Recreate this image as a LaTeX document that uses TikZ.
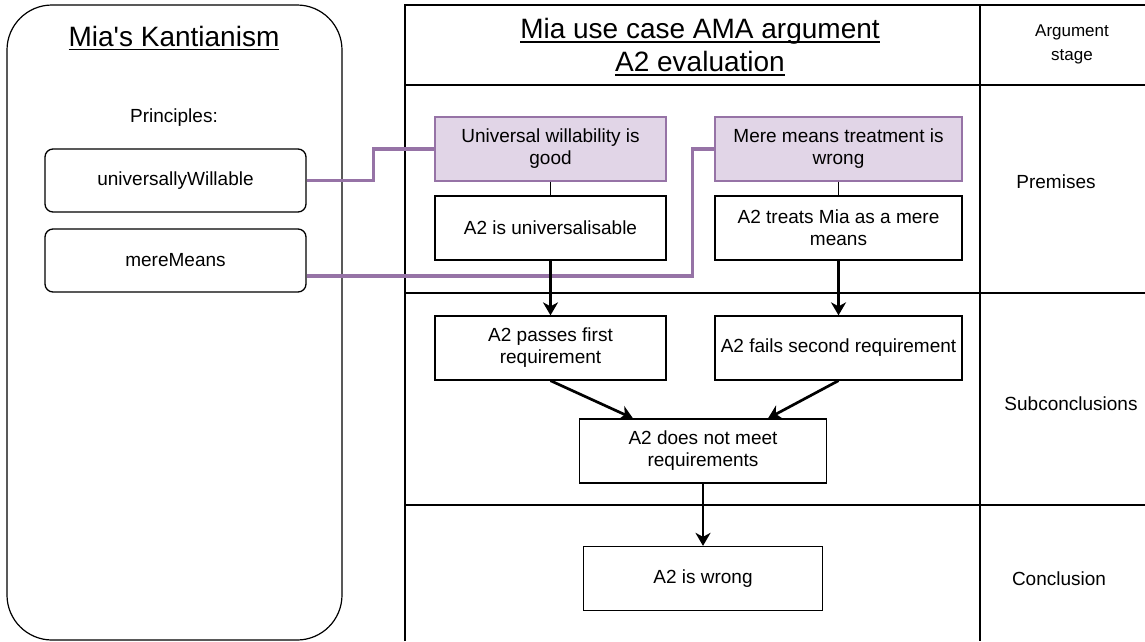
\documentclass[tikz,border=0pt]{standalone}
\usepackage{fontspec}
\setmainfont{Liberation Sans}[Ligatures=TeXOff]
\newcommand{\ulx}[1]{\setbox0\hbox{#1}\rlap{\raisebox{-4pt}{\rule{\wd0}{1.2pt}}}\box0}
\usetikzlibrary{arrows.meta}
\definecolor{pfill}{HTML}{E1D5E7}
\definecolor{pline}{HTML}{9673A6}
\begin{document}
\begin{tikzpicture}[x=1pt,y=-1pt,
  every node/.style={font=\fontsize{19}{22}\selectfont, inner sep=0pt},
  box/.style={draw=black, line width=1.3pt, align=flush center, minimum height=64pt},
  pbox/.style={box, fill=pfill, draw=pline},
  rbox/.style={box, rounded corners=8pt, minimum height=63pt, minimum width=261pt},
  arr/.style={line width=2.7pt, -{Stealth[length=13pt,width=15pt,inset=4pt]}},
  plink/.style={draw=pline, line width=3.3pt},
  grid/.style={line width=1.2pt},
  titlef/.style={font=\fontsize{28}{33}\selectfont, align=center}]
\useasboundingbox (0,0) rectangle (1145,641);

% left container
\node[draw, line width=1.2pt, rounded corners=45pt, minimum width=335pt, minimum height=635pt] (kant) at (174.5,322.5) {};
\node[titlef] (ktitle) at (174,38) {\ulx{Mia's Kantianism}};
\node (princ) at (174,118) {Principles:};
\node[rbox] (uwp) at (175.5,180.5) {universallyWillable};
\node[rbox] (mmp) at (175.5,260.5) {mereMeans};

% table
\coordinate (t1) at (405,5);
\coordinate (t2) at (1145,5);
\coordinate (t3) at (405,641);
\coordinate (c1) at (980,5);
\coordinate (c2) at (980,641);
\coordinate (r1a) at (405,85);
\coordinate (r1b) at (1145,85);
\coordinate (r2a) at (405,293);
\coordinate (r2b) at (1145,293);
\coordinate (r3a) at (405,505);
\coordinate (r3b) at (1145,505);
\draw[grid] (t3) -- (t1) -- (t2);
\draw[grid] (c1) -- (c2);
\draw[grid] (r1a) -- (r1b);
\draw[grid] (r2a) -- (r2b);
\draw[grid] (r3a) -- (r3b);

\node[titlef] (mtitle) at (700,47) {\ulx{Mia use case AMA argument}\\\ulx{A2 evaluation}};
\node[align=center, font=\fontsize{17}{24}\selectfont] (stage) at (1072,44) {Argument\\stage};
\node (prem) at (1056,182) {Premises};
\node (subc) at (1071,404) {Subconclusions};
\node (concl) at (1059,579) {Conclusion};

% boxes
\node[pbox, minimum width=231pt, text width=223pt] (uw) at (550.5,149) {Universal willability is good};
\node[pbox, minimum width=247pt, text width=239pt] (mm) at (838.5,149) {Mere means treatment is wrong};
\node[box, minimum width=231pt, text width=223pt] (univ) at (550.5,228) {A2 is universalisable};
\node[box, minimum width=247pt, text width=239pt] (treat) at (838.5,228) {A2 treats Mia as a mere means};
\node[box, minimum width=231pt, text width=223pt] (pass) at (550.5,348) {A2 passes first requirement};
\node[box, minimum width=247pt, text width=243pt] (fail) at (838.5,348) {A2 fails second requirement};
\node[box, minimum width=247pt, text width=239pt] (dnm) at (703,451) {A2 does not meet requirements};
\node[box, minimum width=239pt, text width=231pt] (wrong) at (703,578.5) {A2 is wrong};

% purple links
\draw[plink] (uwp.east) -- ++(67,0) |- (uw.west);
\draw[plink] ([yshift=-15.5pt]mmp.east) -- ++(386,0) |- (mm.west);

% connectors
\draw[line width=1.8pt] (uw.south) -- (univ.north);
\draw[line width=1.8pt] (mm.south) -- (treat.north);
\draw[arr] (univ.south) -- (pass.north);
\draw[arr] (treat.south) -- (fail.north);
\draw[arr] (pass.south) -- ([xshift=-70pt]dnm.north);
\draw[arr] (fail.south) -- ([xshift=65pt]dnm.north);
\draw[arr] (dnm.south) -- (wrong.north);
\end{tikzpicture}
\end{document}
